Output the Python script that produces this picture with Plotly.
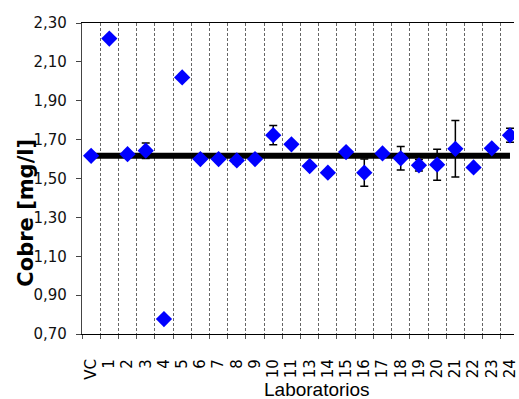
import plotly.graph_objects as go

labs = ["VC", "1", "2", "3", "4", "5", "6", "7", "8", "9", "10", "11",
        "13", "14", "15", "16", "17", "18", "19", "20", "21", "22", "23", "24"]
vals = [1.617, 2.22, 1.625, 1.643, 0.777, 2.02, 1.60, 1.60, 1.593, 1.60, 1.723, 1.676,
        1.564, 1.530, 1.636, 1.530, 1.629, 1.604, 1.568, 1.571, 1.653, 1.557, 1.655, 1.722]
errs = [0, 0, 0, 0.04, 0, 0, 0, 0, 0.02, 0, 0.05, 0,
        0, 0, 0, 0.07, 0, 0.06, 0.03, 0.08, 0.145, 0, 0, 0.036]
ref_value = 1.617

xs = list(range(len(labs)))
bounds = [i - 0.5 for i in range(len(labs) + 1)]

W, H = 519, 399
L, R, T, B = 82, 0, 23, 65
pw, ph = W - L - R, H - T - B


def px_to_paper(px, py):
    return (px - L) / pw, (H - B - py) / ph


fig = go.Figure()
fig.add_trace(go.Scatter(
    x=[xs[0], xs[-1]], y=[ref_value, ref_value], mode="lines",
    line=dict(color="black", width=6), hoverinfo="skip", showlegend=False))
fig.add_trace(go.Scatter(
    x=xs, y=vals, mode="markers",
    marker=dict(symbol="diamond", size=12.5, color="#0000FF", line=dict(width=0)),
    error_y=dict(type="data", array=errs, visible=True, color="black",
                 thickness=1.5, width=4),
    showlegend=False))

xt, yt = px_to_paper(320, 389)
xc, yc = px_to_paper(25, 213)

fig.update_layout(
    width=W, height=H,
    margin=dict(l=L, r=R, t=T, b=B),
    paper_bgcolor="white", plot_bgcolor="white",
    separators=",.",
    font=dict(family="DejaVu Sans", color="black"),
    xaxis=dict(
        range=[-0.5, 23.22],
        tickmode="array", tickvals=xs, ticktext=labs,
        tickangle=-90, ticks="", showgrid=False, zeroline=False,
        tickfont=dict(family="DejaVu Sans", size=15, color="black"),
        ticklabelstandoff=18, ticklabeloverflow="allow",
        showline=True, linecolor="black", linewidth=1.2, mirror=True,
        minor=dict(tickmode="array", tickvals=bounds, ticks="outside", ticklen=4,
                   tickcolor="#555", showgrid=True, griddash="3px,2px",
                   gridcolor="#666", gridwidth=1),
    ),
    yaxis=dict(
        range=[0.70, 2.30], tick0=0.70, dtick=0.20, tickformat=".2f",
        ticks="outside", ticklen=5, tickcolor="#444",
        showgrid=False, zeroline=False,
        showline=True, linecolor="#444", linewidth=1.2,
        tickfont=dict(family="DejaVu Sans", size=15, color="#111"),
        ticklabelstandoff=6,
    ),
    annotations=[
        dict(text="Laboratorios", x=xt, y=yt, xref="paper", yref="paper",
             xanchor="center", yanchor="middle", showarrow=False,
             font=dict(family="Liberation Sans", size=19, color="black")),
        dict(text="<b>Cobre [mg/l]</b>", x=xc, y=yc, xref="paper", yref="paper",
             xanchor="center", yanchor="middle", textangle=-90, showarrow=False,
             font=dict(family="DejaVu Sans", size=21, color="black")),
    ],
)

fig.write_html("out.html",
               config={"displayModeBar": False},
               post_script="document.body.style.margin='0';document.body.style.overflow='hidden';")
